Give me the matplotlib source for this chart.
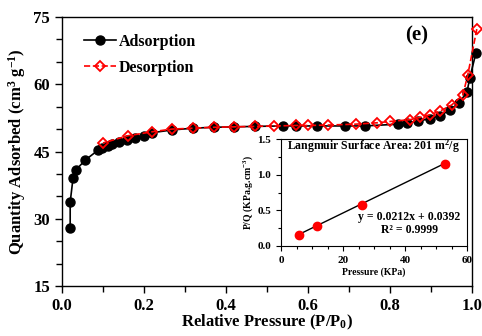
import matplotlib
matplotlib.use("Agg")
import matplotlib.pyplot as plt
from matplotlib.ticker import MultipleLocator
import numpy as np

plt.rcParams['font.family'] = ['Liberation Serif', 'DejaVu Serif']
plt.rcParams['font.weight'] = 'bold'
plt.rcParams['mathtext.fontset'] = 'custom'
plt.rcParams['mathtext.rm'] = 'Liberation Serif:bold'
plt.rcParams['mathtext.it'] = 'Liberation Serif:bold'
plt.rcParams['mathtext.bf'] = 'Liberation Serif:bold'

# Adsorption branch
x_ads = [0.02, 0.02, 0.027, 0.034, 0.057, 0.088, 0.098, 0.112, 0.122, 0.139, 0.159,
         0.178, 0.2, 0.22, 0.268, 0.32, 0.37, 0.42, 0.47, 0.538, 0.57, 0.622, 0.69,
         0.739, 0.82, 0.841, 0.868, 0.898, 0.922, 0.946, 0.968, 0.988, 0.995, 1.01]
y_ads = [28.0, 33.7, 39.1, 40.9, 43.1, 45.3, 45.8, 46.2, 46.7, 47.1, 47.6,
         48.0, 48.5, 49.2, 49.8, 50.2, 50.4, 50.5, 50.6, 50.7, 50.7, 50.7, 50.7,
         50.7, 51.1, 51.4, 51.8, 52.3, 53.0, 54.2, 55.8, 58.2, 61.5, 67.0]

# Desorption branch
x_des = [1.012, 0.99, 0.978, 0.951, 0.922, 0.898, 0.873, 0.849, 0.80, 0.768, 0.717,
         0.648, 0.60, 0.57, 0.517, 0.47, 0.42, 0.37, 0.32, 0.268, 0.22, 0.16, 0.10]
y_des = [72.3, 62.1, 57.6, 55.4, 54.0, 53.2, 52.6, 52.1, 51.7, 51.4, 51.1,
         50.9, 50.8, 50.8, 50.7, 50.6, 50.5, 50.4, 50.2, 50.0, 49.4, 48.5, 46.9]

# Langmuir inset
p_kpa = [5.8, 11.5, 26.0, 53.0]
pq = [0.15, 0.28, 0.58, 1.15]
slope, intercept = 0.0212, 0.0392

fig = plt.figure(figsize=(4.82, 3.36), dpi=100)
ax = fig.add_axes([0.1286, 0.1488, 0.979 - 0.1286, 0.9494 - 0.1488])

ax.plot(x_ads, y_ads, '-', color='black', lw=1.2, marker='o', ms=6.5,
        mfc='black', mec='black', label='Adsorption', clip_on=False, zorder=3)
ax.plot(x_des, y_des, '--', color='red', lw=1.2, marker='D', ms=5.5,
        mfc='none', mec='red', mew=1.3, label='Desorption', clip_on=False, zorder=4)

ax.set_xlim(0, 1.0)
ax.set_ylim(15, 75)
ax.xaxis.set_major_locator(MultipleLocator(0.2))
ax.xaxis.set_minor_locator(MultipleLocator(0.1))
ax.yaxis.set_major_locator(MultipleLocator(15))
ax.yaxis.set_minor_locator(MultipleLocator(5))
ax.xaxis.set_major_formatter(matplotlib.ticker.FormatStrFormatter('%.1f'))
ax.tick_params(which='both', direction='out', labelsize=12, width=1)
ax.tick_params(which='major', length=5)
ax.tick_params(which='minor', length=4)
for s in ax.spines.values():
    s.set_linewidth(1.0)
ax.set_xlabel('Relative Pressure (P/P$_0$)', fontsize=12, fontweight='bold', labelpad=-1)
ax.set_ylabel('Quantity Adsorbed (cm$^3$ g$^{-1}$)', fontsize=12, fontweight='bold', labelpad=4)
ax.text(0.866, 0.933, '(e)', transform=ax.transAxes, fontsize=15, fontweight='bold',
        ha='center', va='center')
leg = ax.legend(loc='upper left', frameon=False, fontsize=11.5, handlelength=2.0,
                handletextpad=0.2, borderaxespad=0.5, labelspacing=0.6,
                bbox_to_anchor=(0.018, 0.99))

# Inset
axi = fig.add_axes([0.583, 0.268, 0.969 - 0.583, 0.586 - 0.268])
xf = np.array([p_kpa[0], p_kpa[-1]])
axi.plot(xf, slope * xf + intercept, '-', color='black', lw=1.0, zorder=2)
axi.plot(p_kpa, pq, 'o', color='red', ms=6, zorder=3)
axi.set_xlim(0, 60)
axi.set_ylim(0, 1.5)
axi.xaxis.set_major_locator(MultipleLocator(20))
axi.xaxis.set_minor_locator(MultipleLocator(5))
axi.yaxis.set_major_locator(MultipleLocator(0.5))
axi.yaxis.set_minor_locator(MultipleLocator(0.25))
axi.yaxis.set_major_formatter(matplotlib.ticker.FormatStrFormatter('%.1f'))
axi.tick_params(which='both', direction='out', labelsize=8, width=0.8)
axi.tick_params(which='major', length=3.5)
axi.tick_params(which='minor', length=2.5)
axi.set_xlabel('Pressure (KPa)', fontsize=7, fontweight='bold', labelpad=2)
axi.set_ylabel('P/Q (KPa.g.cm$^{-3}$)', fontsize=7, fontweight='bold', labelpad=2)
axi.text(0.03, 0.93, 'Langmuir Surface Area: 201 m$^2$/g', transform=axi.transAxes,
         fontsize=8.5, fontweight='bold', ha='left', va='center')
axi.text(0.69, 0.21, 'y = 0.0212x + 0.0392\nR² = 0.9999', transform=axi.transAxes,
         fontsize=8.5, fontweight='bold', ha='center', va='center', linespacing=1.1)

fig.savefig('out.png', dpi=100)
